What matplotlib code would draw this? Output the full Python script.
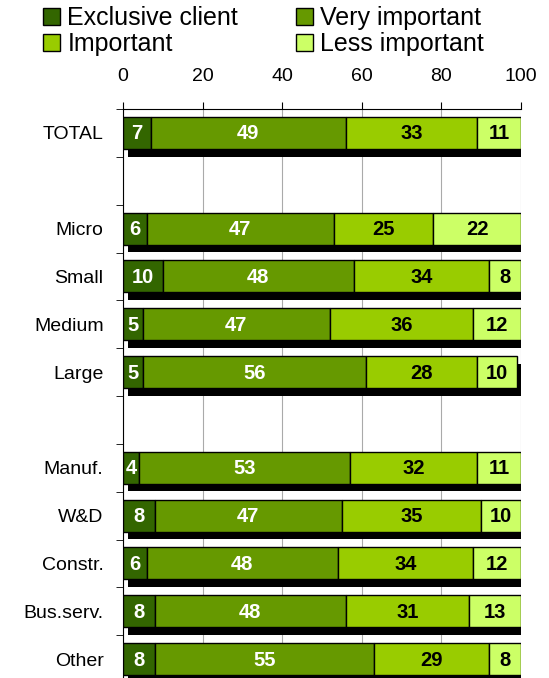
import matplotlib
matplotlib.use("Agg")
import matplotlib.pyplot as plt
import numpy as np
from matplotlib.patches import Patch

plt.rcParams['font.family'] = ['Liberation Sans', 'DejaVu Sans']

# data
categories = ["TOTAL", "", "Micro", "Small", "Medium", "Large", "",
              "Manuf.", "W&D", "Constr.", "Bus.serv.", "Other"]
exclusive = [7, None, 6, 10, 5, 5, None, 4, 8, 6, 8, 8]
very_imp = [49, None, 47, 48, 47, 56, None, 53, 47, 48, 48, 55]
important = [33, None, 25, 34, 36, 28, None, 32, 35, 34, 31, 29]
less_imp = [11, None, 22, 8, 12, 10, None, 11, 10, 12, 13, 8]

series = [("Exclusive client", exclusive, "#336600", "white"),
          ("Very important", very_imp, "#669900", "white"),
          ("Important", important, "#99CC00", "black"),
          ("Less important", less_imp, "#CCFF66", "black")]

fig = plt.figure(figsize=(5.49, 6.78), dpi=100)
ax = fig.add_axes([123/549, -5/678, 398/549, 574/678])

ypos = np.arange(len(categories))
h = 0.67
for i, cat in enumerate(categories):
    if exclusive[i] is None:
        continue
    total = sum(s[1][i] for s in series)
    # shadow
    ax.barh(i + 0.16, total, left=1.2, height=h, color="black", zorder=2)
    left = 0
    for name, vals, col, tcol in series:
        v = vals[i]
        ax.barh(i, v, left=left, height=h, color=col, edgecolor="black",
                linewidth=1, zorder=3)
        ax.text(left + v / 2, i + 0.02, str(v), ha="center", va="center",
                color=tcol, fontsize=14.5, fontweight="bold", zorder=4)
        left += v

ax.set_xlim(0, 100)
ax.set_ylim(len(categories) - 0.5, -0.5)
ax.xaxis.tick_top()
ax.set_xticks([0, 20, 40, 60, 80, 100])
ax.tick_params(axis="x", labelsize=14, length=5, pad=12, color="black")
ax.set_yticks(ypos)
ax.set_yticklabels(categories, fontsize=14)
ax.tick_params(axis="y", which="major", length=0, pad=14)
ax.set_yticks(np.arange(-0.5, len(categories), 1), minor=True)
ax.tick_params(axis="y", which="minor", length=5)
ax.grid(axis="x", color="#aaaaaa", linewidth=0.8, zorder=0)
ax.set_axisbelow(True)
for s in ["right", "bottom"]:
    ax.spines[s].set_visible(False)

# legend fills column-wise: reorder so rows read Exclusive/Very, Important/Less
order = [0, 2, 1, 3]
handles = [Patch(facecolor=series[k][2], edgecolor="black", label=series[k][0])
           for k in order]
fig.legend(handles=handles, ncol=2, loc="upper left", bbox_to_anchor=(0.078, 0.991),
           frameon=False, fontsize=18, handlelength=0.68, handleheight=0.68,
           handletextpad=0.3, columnspacing=2.3, labelspacing=0.07,
           borderaxespad=0, borderpad=0)

fig.savefig("out.png", dpi=100)
